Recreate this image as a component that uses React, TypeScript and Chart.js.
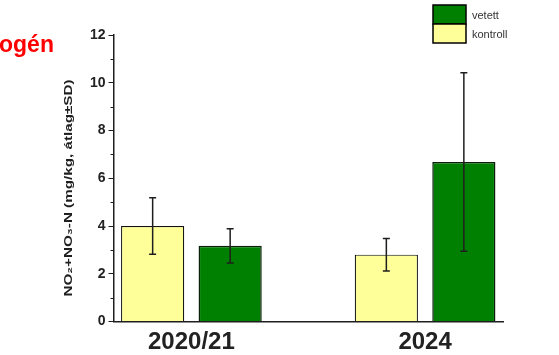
import React, { useEffect, useRef } from 'react';
import { Chart, registerables } from 'chart.js';

Chart.register(...registerables);

// ---- data ----
const categories = ['2020/21', '2024'];
const seriesNames = ['kontroll', 'vetett'];
const kontrollMean = [4.0, 2.8];
const kontrollSD = [1.18, 0.68];
const vetettMean = [3.17, 6.68];
const vetettSD = [0.72, 3.74];
const yTickValues = [0, 2, 4, 6, 8, 10, 12];
const yAxisTitle = 'NO₂+NO₃-N (mg/kg, átlag±SD)';
const headingFragment = 'ogén';

// ---- layout of category slots (axis has 6 evenly spaced slots, groups sit on 2 of them) ----
const SLOT_COUNT = 6;
const GROUP_SLOTS = [1, 4];

const COLORS = {
  kontroll: '#ffff99',
  vetett: '#008000',
  ink: '#1e1e1e',
};

const FONT = "'Liberation Sans', Arial, sans-serif";

function spread(values: number[]): (number | null)[] {
  const out: (number | null)[] = new Array(SLOT_COUNT).fill(null);
  GROUP_SLOTS.forEach((slot, i) => {
    out[slot] = values[i];
  });
  return out;
}

const axisLabels: string[] = (() => {
  const out: string[] = new Array(SLOT_COUNT).fill('');
  GROUP_SLOTS.forEach((slot, i) => {
    out[slot] = categories[i];
  });
  return out;
})();

const errorBarPlugin = {
  id: 'errorBars',
  afterDatasetsDraw(chart: any) {
    const ctx = chart.ctx;
    const yScale = chart.scales.y;
    ctx.save();
    ctx.strokeStyle = COLORS.ink;
    ctx.lineWidth = 1.5;
    chart.data.datasets.forEach((ds: any, di: number) => {
      const meta = chart.getDatasetMeta(di);
      meta.data.forEach((el: any, i: number) => {
        const v = ds.data[i];
        const sd = ds.sd[i];
        if (v == null || sd == null) return;
        const x = el.x;
        const yt = yScale.getPixelForValue(v + sd);
        const yb = yScale.getPixelForValue(v - sd);
        ctx.beginPath();
        ctx.moveTo(x, yt);
        ctx.lineTo(x, yb);
        ctx.moveTo(x - 3.5, yt);
        ctx.lineTo(x + 3.5, yt);
        ctx.moveTo(x - 3.5, yb);
        ctx.lineTo(x + 3.5, yb);
        ctx.stroke();
      });
    });
    ctx.restore();
  },
};

const decorPlugin = {
  id: 'decor',
  afterDraw(chart: any) {
    const ctx = chart.ctx;
    const yScale = chart.scales.y;
    const area = chart.chartArea;
    ctx.save();
    // minor ticks on y axis
    ctx.strokeStyle = COLORS.ink;
    ctx.lineWidth = 1;
    for (let v = 1; v < 12; v += 2) {
      const y = Math.round(yScale.getPixelForValue(v)) + 0.5;
      ctx.beginPath();
      ctx.moveTo(area.left - 3, y);
      ctx.lineTo(area.left, y);
      ctx.stroke();
    }
    // y axis title (rotated, stretched)
    ctx.font = `bold 11px ${FONT}`;
    ctx.fillStyle = COLORS.ink;
    ctx.textAlign = 'center';
    ctx.textBaseline = 'middle';
    const w = ctx.measureText(yAxisTitle).width;
    const stretch = 217 / w;
    ctx.translate(69, 188);
    ctx.rotate(-Math.PI / 2);
    ctx.scale(stretch, 1);
    ctx.fillText(yAxisTitle, 0, 0);
    ctx.restore();

    // heading fragment
    ctx.save();
    ctx.font = `bold 23px ${FONT}`;
    ctx.fillStyle = '#ff0000';
    ctx.textAlign = 'left';
    ctx.textBaseline = 'alphabetic';
    ctx.fillText(headingFragment, -1, 52);
    ctx.restore();

    // legend: vetett above kontroll, stacked boxes
    ctx.save();
    const bx = 433;
    const bw = 33;
    const bh = 19;
    const items = [
      { name: seriesNames[1], color: COLORS.vetett, y: 5 },
      { name: seriesNames[0], color: COLORS.kontroll, y: 5 + bh },
    ];
    ctx.lineWidth = 1.5;
    ctx.strokeStyle = '#000';
    ctx.font = `11px ${FONT}`;
    ctx.textAlign = 'left';
    ctx.textBaseline = 'middle';
    items.forEach((it) => {
      ctx.fillStyle = it.color;
      ctx.fillRect(bx, it.y, bw, bh);
      ctx.strokeRect(bx, it.y, bw, bh);
      ctx.fillStyle = '#333';
      ctx.fillText(it.name, bx + 39, it.y + bh / 2 + 1);
    });
    ctx.restore();
  },
};

export default function App() {
  const ref = useRef<HTMLCanvasElement | null>(null);

  useEffect(() => {
    if (!ref.current) return;
    const chart = new Chart(ref.current, {
      type: 'bar',
      data: {
        labels: axisLabels,
        datasets: [
          {
            label: seriesNames[0],
            data: spread(kontrollMean),
            sd: spread(kontrollSD),
            backgroundColor: COLORS.kontroll,
            borderColor: '#111',
            borderWidth: 1.2,
            categoryPercentage: 1.99,
            barPercentage: 0.815,
          } as any,
          {
            label: seriesNames[1],
            data: spread(vetettMean),
            sd: spread(vetettSD),
            backgroundColor: COLORS.vetett,
            borderColor: '#0a1f0a',
            borderWidth: 1.5,
            categoryPercentage: 1.99,
            barPercentage: 0.815,
          } as any,
        ],
      },
      options: {
        responsive: false,
        animation: false,
        layout: { padding: { left: 0, right: 56, top: 35, bottom: 0 } },
        plugins: {
          legend: { display: false },
          tooltip: { enabled: false },
          title: { display: false },
        },
        scales: {
          x: {
            type: 'category',
            offset: false,
            grid: { display: false, drawTicks: false },
            border: { display: true, color: COLORS.ink, width: 1.5 },
            ticks: {
              autoSkip: false,
              maxRotation: 0,
              minRotation: 0,
              padding: 6,
              color: '#222',
              font: { family: FONT, size: 24, weight: 'bold' },
            },
            afterFit(scale: any) {
              scale.height = 33.5;
            },
          },
          y: {
            min: 0,
            max: 12,
            grid: {
              drawOnChartArea: false,
              drawTicks: true,
              tickLength: 5,
              tickWidth: 1,
              tickColor: (c: any) =>
                c.tick && yTickValues.includes(c.tick.value) ? COLORS.ink : 'rgba(0,0,0,0)',
            },
            border: { display: true, color: COLORS.ink, width: 1.5 },
            ticks: {
              stepSize: 1,
              padding: 3,
              color: '#222',
              font: { family: FONT, size: 14, weight: 'bold' },
              callback: (v: any) => (yTickValues.includes(Number(v)) ? String(v) : ''),
            },
            afterFit(scale: any) {
              scale.width = 113.5;
            },
          },
        },
      },
      plugins: [errorBarPlugin, decorPlugin],
    });
    return () => chart.destroy();
  }, []);

  return (
    <div style={{ position: 'fixed', left: 0, top: 0, width: 559, height: 355, background: '#fff' }}>
      <canvas ref={ref} width={559} height={355} style={{ display: 'block' }} />
    </div>
  );
}
